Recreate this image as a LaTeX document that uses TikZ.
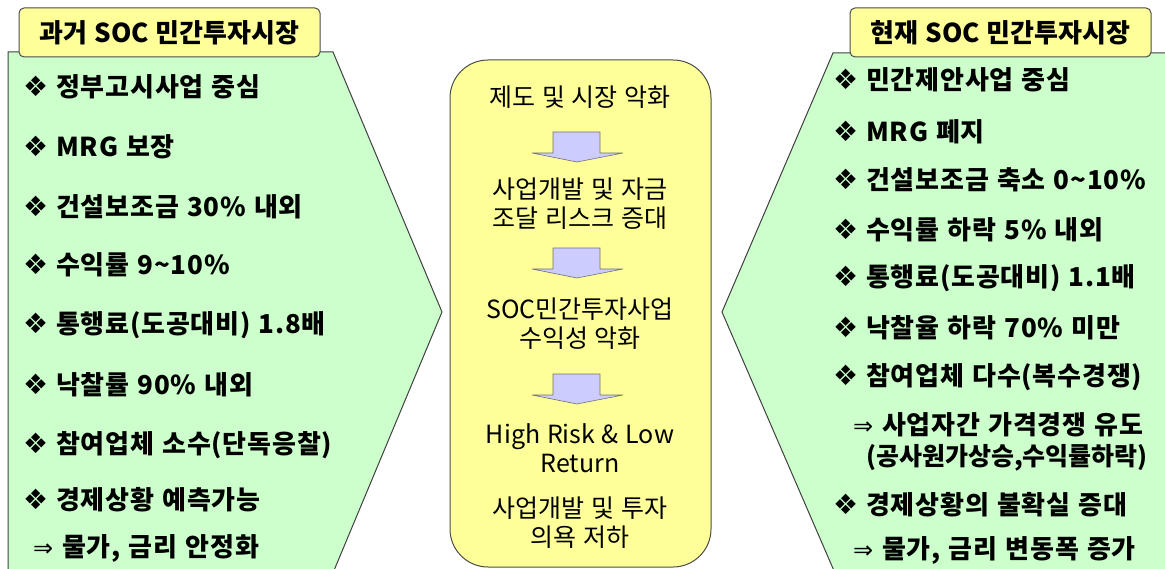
\documentclass[tikz,border=0pt]{standalone}
\usepackage{fontspec}
\setmainfont{Noto Sans CJK KR}[WordSpace=1.2]
\newfontfamily\symfont{DejaVu Sans}
\newcommand{\bul}{{\symfont\mdseries\fontsize{28}{30}\selectfont\char"2756}\hspace{8pt}}
\newcommand{\imp}{{\symfont\mdseries\fontsize{24}{28}\selectfont\char"21D2}\hspace{9pt}}
\definecolor{panelgreen}{HTML}{CCFFCC}
\definecolor{titleyellow}{HTML}{FFFF99}
\definecolor{arrowblue}{HTML}{CCCCFF}
\tikzset{
  panel/.style={draw=black!75, fill=panelgreen, line width=1pt},
  titlebox/.style={draw=black!70, fill=titleyellow, rounded corners=5pt, line width=1pt,
    minimum width=301pt, minimum height=49pt, inner sep=0pt,
    font=\fontsize{26}{30}\selectfont\bfseries},
  flowbox/.style={draw=black!70, fill=titleyellow, rounded corners=38pt, line width=1pt},
  item/.style={anchor=west, inner sep=0pt,
    font=\fontsize{26}{30}\selectfont\bfseries\addfontfeatures{LetterSpace=3}},
  flowtext/.style={align=center, inner sep=0pt, font=\fontsize{25}{29}\selectfont},
  blockarrow/.style={fill=arrowblue, draw=black!55, line width=0.6pt},
}
\begin{document}
\begin{tikzpicture}[x=1pt,y=-1pt]
\useasboundingbox (0,0) rectangle (1165,569);

% left panel
\draw[panel] (8,52) -- (333,52) -- (442,312) -- (330,580) -- (8,580) -- cycle;
\node[titlebox] (pasttitle) at (169.5,32.5) {과거 SOC 민간투자시장};
\node[item] (p1) at (23,87)  {\bul 정부고시사업 중심};
\node[item] (p2) at (23,147) {\bul MRG 보장};
\node[item] (p3) at (23,207) {\bul 건설보조금 30\% 내외};
\node[item] (p4) at (23,265) {\bul 수익률 9\textasciitilde10\%};
\node[item] (p5) at (23,325) {\bul 통행료(도공대비) 1.8배};
\node[item] (p6) at (23,385) {\bul 낙찰률 90\% 내외};
\node[item] (p7) at (23,445) {\bul 참여업체 소수(단독응찰)};
\node[item] (p8) at (23,500) {\bul 경제상황 예측가능};
\node[item] (p9) at (33,548) {\imp 물가, 금리 안정화};

% right panel
\draw[panel] (833,53) -- (1170,53) -- (1170,580) -- (838,580) -- (722,312) -- cycle;
\node[titlebox] (nowtitle) at (1000.5,32.5) {현재 SOC 민간투자시장};
\node[item] (n1) at (833,80)  {\bul 민간제안사업 중심};
\node[item] (n2) at (833,132) {\bul MRG 폐지};
\node[item] (n3) at (833,180) {\bul 건설보조금 축소 0\textasciitilde10\%};
\node[item] (n4) at (833,230) {\bul 수익률 하락 5\% 내외};
\node[item] (n5) at (833,278) {\bul 통행료(도공대비) 1.1배};
\node[item] (n6) at (833,328) {\bul 낙찰율 하락 70\% 미만};
\node[item] (n7) at (833,377) {\bul 참여업체 다수(복수경쟁)};
\node[item] (n8) at (853,425) {\imp 사업자간 가격경쟁 유도};
\node[item, font=\fontsize{25}{30}\selectfont\bfseries] (n9) at (866,458) {(공사원가상승,수익률하락)};
\node[item] (n10) at (833,505) {\bul 경제상황의 불확실 증대};
\node[item] (n11) at (853,550) {\imp 물가, 금리 변동폭 증가};

% center flow
\draw[flowbox] (450,60) rectangle (711,567);
\node[flowtext] (f1) at (580,97)    {제도 및 시장 악화};
\node[flowtext] (f2) at (580,204)   {사업개발 및 자금\\조달 리스크 증대};
\node[flowtext] (f3) at (580,323.5) {SOC민간투자사업\\수익성 악화};
\node[flowtext] (f4) at (580,448)   {High Risk \& Low\\Return};
\node[flowtext] (f5) at (580,523)   {사업개발 및 투자\\의욕 저하};
\foreach \y in {132,248,374}
  \draw[blockarrow] (553,\y) -- (600,\y) -- (600,\y+21) -- (623,\y+21)
    -- (577,\y+30) -- (532,\y+21) -- (553,\y+21) -- cycle;
\end{tikzpicture}
\end{document}
